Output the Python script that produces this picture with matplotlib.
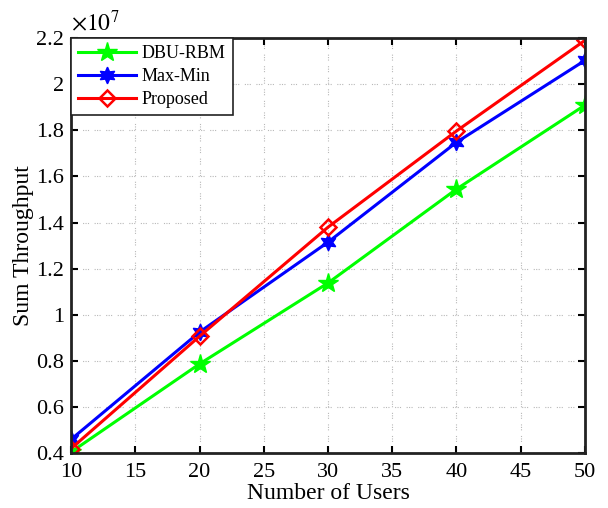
import matplotlib.pyplot as plt
from matplotlib.ticker import FuncFormatter, MultipleLocator

plt.rcParams['font.family'] = ['Liberation Serif', 'DejaVu Serif']
plt.rcParams['mathtext.fontset'] = 'stix'

users = [10, 20, 30, 40, 50]
dbu_rbm = [0.405, 0.787, 1.138, 1.545, 1.909]
max_min = [0.46, 0.925, 1.315, 1.748, 2.103]
proposed = [0.42, 0.907, 1.38, 1.797, 2.19]
scale = 1e7

fig = plt.figure(figsize=(6.08, 5.08), dpi=100)
ax = fig.add_axes([0.117, 0.108, 0.845, 0.817])

ax.plot(users, [v * scale for v in dbu_rbm], color='#00ff00', lw=2.2,
        marker='*', ms=15, label='DBU-RBM')
ax.plot(users, [v * scale for v in max_min], color='#0000ff', lw=2.2,
        marker=(6, 1, 0), ms=12, label='Max-Min')
ax.plot(users, [v * scale for v in proposed], color='#ff0000', lw=2.2,
        marker='D', ms=8, mfc='none', mew=1.8, label='Proposed')

ax.set_xlim(10, 50)
ax.set_ylim(0.4 * scale, 2.2 * scale)
ax.xaxis.set_major_locator(MultipleLocator(5))
ax.yaxis.set_major_locator(MultipleLocator(0.2 * scale))
ax.yaxis.set_major_formatter(FuncFormatter(lambda v, p: '%g' % round(v / scale, 2)))

ax.grid(True, color='#b8b8b8', lw=0.8,
        ls=(0, (1, 1.2, 1, 1.2, 1, 5)))
ax.tick_params(direction='in', labelsize=16, width=1.5, length=5,
               top=True, right=True, pad=5)
ax.tick_params(axis='x', pad=7)
for s in ax.spines.values():
    s.set_linewidth(2)
    s.set_color('#222222')

ax.set_xlabel('Number of Users', fontsize=17, labelpad=1)
ax.set_ylabel('Sum Throughput', fontsize=17, labelpad=2)
ax.text(0.0, 1.005, r'$\times10^7$', transform=ax.transAxes, fontsize=17,
        ha='left', va='bottom')

leg = ax.legend(loc='upper left', fontsize=13, handlelength=3.2, borderaxespad=0,
                fancybox=False, edgecolor='#222222', framealpha=1,
                borderpad=0.4, labelspacing=0.32, handletextpad=0.3)
leg.get_frame().set_linewidth(1.2)

fig.savefig('out.png', dpi=100)
